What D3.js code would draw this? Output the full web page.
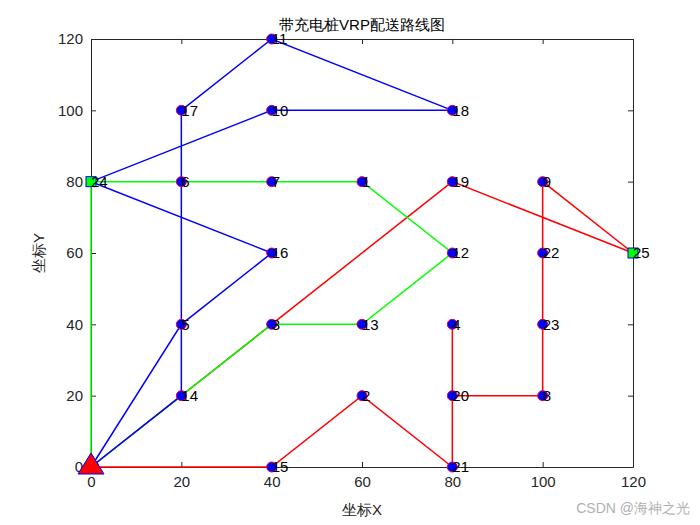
<!DOCTYPE html>
<html><head><meta charset="utf-8">
<script src="https://cdn.jsdelivr.net/npm/d3@7"></script>
<style>body{margin:0;background:#fff}svg{display:block}</style>
</head><body><svg id="c" width="700" height="525"></svg>
<script>
// node ids, coordinates
const nodeIds = [0,1,2,3,4,5,6,7,8,9,10,11,12,13,14,15,16,17,18,19,20,21,22,23,24,25];
const nodeX   = [0,60,60,40,80,20,20,40,100,100,40,40,80,60,20,40,40,20,80,80,80,80,100,100,0,120];
const nodeY   = [0,80,20,40,40,40,80,80,20,80,100,120,60,40,20,0,60,100,100,80,20,0,60,40,80,60];
const depotIds = [0];
const stationIds = [24,25];
// routes (drawn in order)
const routeRed   = [0,15,2,21,4,20,8,23,22,9,25,19,0];
const routeGreen = [0,24,7,1,12,13,3,0];
const routeBlue  = [0,5,16,24,10,18,11,17,6,14,0];
const xTicks = [0,20,40,60,80,100,120];
const yTicks = [0,20,40,60,80,100,120];

const svg = d3.select("#c");
const L=91,R=633,T=39,B=467;
const x = d3.scaleLinear().domain([0,120]).range([L,R]);
const y = d3.scaleLinear().domain([0,120]).range([B,T]);
const font = "Arial, 'Liberation Sans', Helvetica, sans-serif";
const axCol = "#262626";

// axes box
const gA = svg.append("g");
gA.append("g").attr("transform",`translate(0,${B})`).call(d3.axisBottom(x).tickValues(xTicks).tickSizeInner(-5).tickSizeOuter(0).tickPadding(9));
gA.append("g").attr("transform",`translate(0,${T})`).call(d3.axisTop(x).tickValues(xTicks).tickSizeInner(-5).tickSizeOuter(0).tickFormat(""));
gA.append("g").attr("transform",`translate(${L},0)`).call(d3.axisLeft(y).tickValues(yTicks).tickSizeInner(-5).tickSizeOuter(0).tickPadding(8));
gA.append("g").attr("transform",`translate(${R},0)`).call(d3.axisRight(y).tickValues(yTicks).tickSizeInner(-5).tickSizeOuter(0).tickFormat(""));
gA.selectAll(".domain").attr("stroke",axCol);
gA.selectAll(".tick line").attr("stroke",axCol);
gA.selectAll(".tick text").attr("fill",axCol).style("font-family",font).style("font-size","15px");

const pt = id => [x(nodeX[id]), y(nodeY[id])];
const line = d3.line();
[[routeRed,"#ff0000"],[routeGreen,"#00ff00"],[routeBlue,"#0000ff"]].forEach(([r,c])=>{
  svg.append("path").attr("d",line(r.map(pt))).attr("fill","none").attr("stroke",c).attr("stroke-width",1.5);
});

// customer markers
const customers = nodeIds.filter(i=>!depotIds.includes(i)&&!stationIds.includes(i));
svg.append("g").selectAll("circle").data(customers).join("circle")
  .attr("cx",d=>x(nodeX[d])).attr("cy",d=>y(nodeY[d])).attr("r",5)
  .attr("fill","#0000ff").attr("stroke","#e0004a").attr("stroke-width",1);
// stations
svg.append("g").selectAll("rect").data(stationIds).join("rect")
  .attr("x",d=>x(nodeX[d])-5).attr("y",d=>y(nodeY[d])-5).attr("width",10).attr("height",10)
  .attr("fill","#00ff00").attr("stroke","#0000ff").attr("stroke-width",1);

// labels
svg.append("g").selectAll("text").data(nodeIds).join("text")
  .attr("x",d=>x(nodeX[d])).attr("y",d=>y(nodeY[d])).attr("dy","0.35em")
  .text(d=>d).style("font-family",font).style("font-size","15px").attr("fill","#000");

// depot
svg.append("g").selectAll("path").data(depotIds).join("path")
  .attr("d",d=>{const [px,py]=pt(d);return `M${px},${py-14}L${px+13},${py+7}L${px-13},${py+7}Z`;})
  .attr("fill","#ff0000").attr("stroke","#0000ff").attr("stroke-width",1);

// title and axis labels
svg.append("text").attr("x",362).attr("y",30).attr("text-anchor","middle").style("font-family",font).style("font-size","15px").attr("fill","#000").text("带充电桩VRP配送路线图");
svg.append("text").attr("x",362).attr("y",515).attr("text-anchor","middle").style("font-family",font).style("font-size","15px").attr("fill",axCol).text("坐标X");
svg.append("text").attr("transform","translate(44,253) rotate(-90)").attr("text-anchor","middle").style("font-family",font).style("font-size","15px").attr("fill",axCol).text("坐标Y");
svg.append("text").attr("x",690).attr("y",513).attr("text-anchor","end").style("font-family",font).style("font-size","14px").attr("fill","#b0b0b0").text("CSDN @海神之光");
</script></body></html>
